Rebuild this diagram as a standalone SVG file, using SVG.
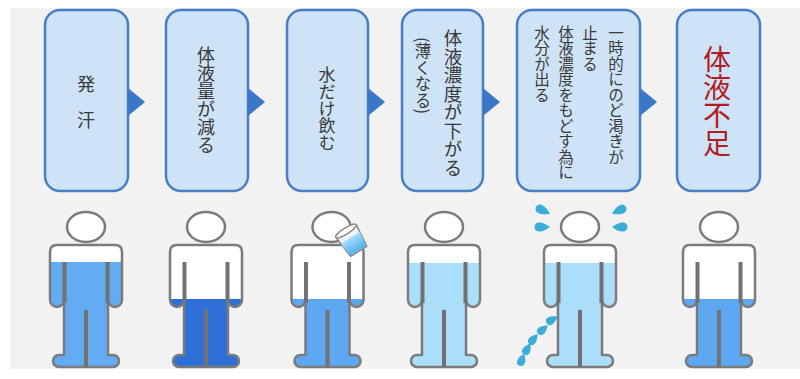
<svg xmlns="http://www.w3.org/2000/svg" xmlns:xlink="http://www.w3.org/1999/xlink" width="800" height="379" viewBox="0 0 800 379">
  <style>
    .box { fill: #cfe3f7; stroke: #4a7ec3; stroke-width: 2.5; }
    .arrow { fill: #3a77c8; }
    .t { font-family: "Noto Sans CJK JP", "Noto Sans CJK SC", sans-serif; fill: #3a3a3a; writing-mode: vertical-rl; }
    .red { fill: #b01c22; }
    .head { fill: #ffffff; stroke: #7b7b7b; stroke-width: 2.5; }
    .outline { fill: none; stroke: #7b7b7b; stroke-width: 2.5; stroke-linejoin: round; }
    .bodybg { fill: #ffffff; }
    .inner { fill: none; stroke: #727272; stroke-width: 4; }
    .drop { fill: #3aaed8; }
  </style>
  <defs>
    <!-- person pictogram, origin at centre of the shoulder line -->
    <path id="body" d="M -29 0 H 29 Q 36 0 36 7 V 55 A 7 7 0 0 1 22 55 V 110 H 27 A 6 6 0 0 1 27 122 H -27 A 6 6 0 0 1 -27 110 H -22 V 55 A 7 7 0 0 1 -36 55 V 7 Q -36 0 -29 0 Z"/>
    <clipPath id="bodyClip">
      <use xlink:href="#body"/>
    </clipPath>
    <!-- water drop, round end at origin, tip along +x -->
    <path id="drop" d="M 11 0 Q 4 -5 0 -4.5 A 4.5 4.5 0 0 0 0 4.5 Q 4 5 11 0 Z"/>
    <path id="dropS" d="M 9 0 Q 3 -4.3 0 -4 A 4 4 0 0 0 0 4 Q 3 4.3 9 0 Z"/>
    <linearGradient id="water" x1="0" y1="0" x2="0" y2="1">
      <stop offset="0" stop-color="#a9defa"/>
      <stop offset="1" stop-color="#4fb2ec"/>
    </linearGradient>
  </defs>

  <!-- backdrop -->
  <rect x="0" y="0" width="800" height="379" fill="#ffffff"/>
  <rect x="10" y="8" width="790" height="361" fill="#f2f2f2"/>

  <!-- step boxes -->
  <g id="step1">
    <rect class="box" x="45" y="10" width="83" height="181" rx="15"/>
    <text class="t" x="86" y="75" font-size="18">発　汗</text>
  </g>
  <g id="step2">
    <rect class="box" x="166" y="10" width="82" height="181" rx="15"/>
    <text class="t" x="206" y="46" font-size="18">体液量が減る</text>
  </g>
  <g id="step3">
    <rect class="box" x="287" y="10" width="81" height="181" rx="15"/>
    <text class="t" x="327" y="66" font-size="17">水だけ飲む</text>
  </g>
  <g id="step4">
    <rect class="box" x="402" y="10" width="81" height="181" rx="15"/>
    <text class="t" x="453" y="29" font-size="18.5">体液濃度が下がる</text>
    <text class="t" x="423" y="37" font-size="16.5">(薄くなる)</text>
  </g>
  <g id="step5">
    <rect class="box" x="517" y="10" width="123" height="181" rx="15"/>
    <text class="t" x="616" y="25" font-size="15.5">一時的にのど渇きが</text>
    <text class="t" x="590" y="25" font-size="15.5">止まる</text>
    <text class="t" x="566" y="25" font-size="15.5">体液濃度をもどす為に</text>
    <text class="t" x="542" y="25" font-size="15.5">水分が出る</text>
  </g>
  <g id="step6">
    <rect class="box" x="677" y="10" width="83" height="181" rx="15"/>
    <text class="t red" x="717" y="45" font-size="28">体液不足</text>
  </g>

  <!-- connectors -->
  <g id="connectors">
    <polygon class="arrow" points="128,88 145,102 128,116"/>
    <polygon class="arrow" points="248,88 265,102 248,116"/>
    <polygon class="arrow" points="368,88 385,102 368,116"/>
    <polygon class="arrow" points="483,88 500,102 483,116"/>
    <polygon class="arrow" points="640,88 657,102 640,116"/>
  </g>

  <!-- figures -->
  <g id="figure1" transform="translate(86,245)">
    <ellipse class="head" cx="0" cy="-18" rx="19" ry="15"/>
    <use xlink:href="#body" class="bodybg"/>
    <rect clip-path="url(#bodyClip)" x="-40" y="17" width="80" height="110" fill="#63abf2"/>
    <use xlink:href="#body" class="outline"/>
    <path class="inner" d="M -21.5 17 V 58 M 21.5 17 V 58 M 0 65 V 122"/>
  </g>
  <g id="figure2" transform="translate(206,245)">
    <ellipse class="head" cx="0" cy="-18" rx="19" ry="15"/>
    <use xlink:href="#body" class="bodybg"/>
    <rect clip-path="url(#bodyClip)" x="-40" y="54" width="80" height="80" fill="#2e6fd8"/>
    <use xlink:href="#body" class="outline"/>
    <path class="inner" d="M -21.5 17 V 58 M 21.5 17 V 58 M 0 65 V 122"/>
  </g>
  <g id="figure3" transform="translate(327.5,245)">
    <ellipse class="head" cx="4" cy="-18" rx="19" ry="15"/>
    <use xlink:href="#body" class="bodybg"/>
    <rect clip-path="url(#bodyClip)" x="-40" y="54" width="80" height="80" fill="#5ea8f3"/>
    <use xlink:href="#body" class="outline"/>
    <path class="inner" d="M -21.5 17 V 58 M 21.5 17 V 58 M 0 65 V 122"/>
  </g>
  <g id="glass" transform="translate(346,231) rotate(-32)">
    <path d="M -12 0 L 12 0 L 9.5 24 L -9.5 24 Z" fill="#eef6fb" stroke="#8a8a8a" stroke-width="1.6" stroke-linejoin="round"/>
    <path d="M -11.2 8 L 11.2 8 L 9.5 23.2 L -9.5 23.2 Z" fill="url(#water)"/>
    <ellipse cx="0" cy="0" rx="12" ry="3" fill="#ffffff" stroke="#8a8a8a" stroke-width="1.4"/>
  </g>
  <g id="figure4" transform="translate(444,245)">
    <ellipse class="head" cx="0" cy="-18" rx="19" ry="15"/>
    <use xlink:href="#body" class="bodybg"/>
    <rect clip-path="url(#bodyClip)" x="-40" y="18" width="80" height="110" fill="#aadef9"/>
    <use xlink:href="#body" class="outline"/>
    <path class="inner" d="M -21.5 17 V 58 M 21.5 17 V 58 M 0 65 V 122"/>
  </g>
  <g id="figure5" transform="translate(580,245)">
    <ellipse class="head" cx="0" cy="-18" rx="19" ry="15"/>
    <use xlink:href="#body" class="bodybg"/>
    <rect clip-path="url(#bodyClip)" x="-40" y="18" width="80" height="110" fill="#aadef9"/>
    <use xlink:href="#body" class="outline"/>
    <path class="inner" d="M -21.5 17 V 58 M 21.5 17 V 58 M 0 65 V 122"/>
  </g>
  <g id="sweat">
    <use xlink:href="#drop" class="drop" transform="translate(540,209) rotate(25)"/>
    <use xlink:href="#drop" class="drop" transform="translate(539,227) rotate(0)"/>
    <use xlink:href="#drop" class="drop" transform="translate(622,209) rotate(155)"/>
    <use xlink:href="#drop" class="drop" transform="translate(623,227) rotate(180)"/>
  </g>
  <g id="stream">
    <use xlink:href="#dropS" class="drop" transform="translate(550,321) rotate(-30)"/>
    <use xlink:href="#dropS" class="drop" transform="translate(541,331) rotate(-40)"/>
    <use xlink:href="#dropS" class="drop" transform="translate(532,341) rotate(-50)"/>
    <use xlink:href="#dropS" class="drop" transform="translate(526,351) rotate(-60)"/>
    <use xlink:href="#dropS" class="drop" transform="translate(521,362) rotate(-70)"/>
  </g>
  <g id="figure6" transform="translate(719,245)">
    <ellipse class="head" cx="0" cy="-18" rx="19" ry="15"/>
    <use xlink:href="#body" class="bodybg"/>
    <rect clip-path="url(#bodyClip)" x="-40" y="54" width="80" height="80" fill="#5ea8f3"/>
    <use xlink:href="#body" class="outline"/>
    <path class="inner" d="M -21.5 17 V 58 M 21.5 17 V 58 M 0 65 V 122"/>
  </g>
</svg>
